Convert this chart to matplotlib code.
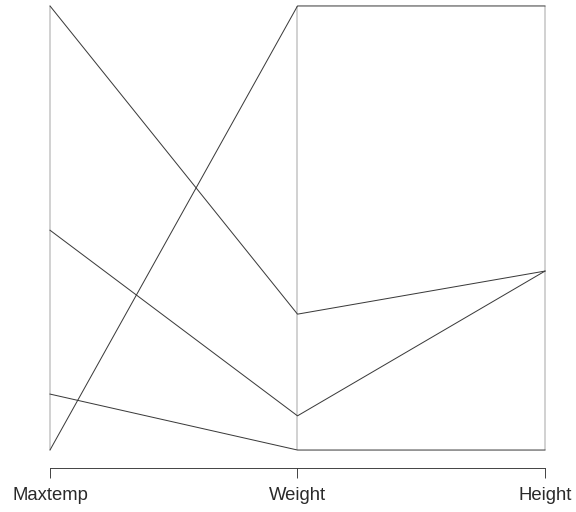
import matplotlib
matplotlib.use("Agg")
import matplotlib.pyplot as plt
import numpy as np

variables = ["Maxtemp", "Weight", "Height"]
# one row per observation, columns follow `variables`
obs_a = [1.000, 0.306, 0.403]
obs_b = [0.495, 0.077, 0.403]
obs_c = [0.126, 0.000, 0.000]
obs_d = [0.000, 1.000, 1.000]

data = np.array([obs_a, obs_b, obs_c, obs_d])
# scale each column to [0, 1]
mn = data.min(axis=0)
mx = data.max(axis=0)
scaled = (data - mn) / (mx - mn)

plt.rcParams["font.family"] = ["Liberation Sans", "DejaVu Sans"]

fig = plt.figure(figsize=(8, 512 / 72), dpi=72)
ax = fig.add_axes([30.2 / 576, (512 - 467.8) / 512, 534.6 / 576, 479.6 / 512])

xs = np.arange(1, len(variables) + 1)
for x in xs:
    ax.plot([x, x], [0, 1], color="#c8c8c8", lw=1.6, zorder=1,
            solid_capstyle="butt")
for row in scaled:
    ax.plot(xs, row, color="#3a3a3a", lw=1.0, zorder=2)

ax.set_xlim(0.92, 3.08)
ax.set_ylim(-0.04, 1.04)
for s in ["top", "right", "left"]:
    ax.spines[s].set_visible(False)
ax.spines["bottom"].set_bounds(1, 3)
ax.spines["bottom"].set_color("#333333")
ax.spines["bottom"].set_linewidth(0.9)
ax.set_yticks([])
ax.set_xticks(xs)
ax.set_xticklabels(variables, fontsize=18.5, color="#2a2a2a")
ax.tick_params(axis="x", length=10, width=0.9, color="#333333", pad=9)

fig.savefig("out.png", dpi=72)
